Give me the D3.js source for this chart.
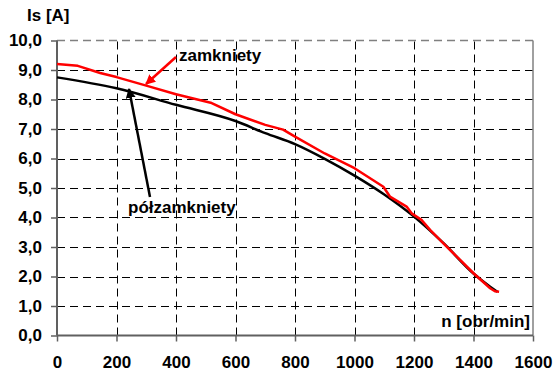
<!DOCTYPE html>
<html>
<head>
<meta charset="utf-8">
<script src="https://cdn.jsdelivr.net/npm/d3@7"></script>
<style>
  body { margin: 0; background: #fff; }
  svg { display: block; font-family: "Liberation Sans", Arial, sans-serif; font-weight: bold; }
</style>
</head>
<body>
<div id="chart"></div>
<script>
// chart values
const xTicks = [0, 200, 400, 600, 800, 1000, 1200, 1400, 1600];
const yTicks = [0, 1, 2, 3, 4, 5, 6, 7, 8, 9, 10];

// "zamkniety" (red)
const zamN  = [0, 70, 145, 200, 300, 400, 520, 600, 700, 760, 800, 900, 1000, 1097, 1119, 1175, 1192, 1225, 1254, 1299, 1344, 1400, 1456, 1472, 1486];
const zamIs = [9.2, 9.14, 8.9, 8.76, 8.47, 8.18, 7.88, 7.5, 7.14, 6.98, 6.74, 6.17, 5.67, 5.04, 4.71, 4.37, 4.14, 3.92, 3.58, 3.12, 2.67, 2.11, 1.6, 1.5, 1.48];

// "półzamkniety" (black)
const polN  = [0, 200, 400, 600, 700, 800, 900, 1000, 1100, 1200, 1300, 1400, 1456, 1480];
const polIs = [8.75, 8.38, 7.82, 7.27, 6.86, 6.49, 5.99, 5.42, 4.78, 4.03, 3.12, 2.1, 1.65, 1.48];

(() => {
  const width = 555, height = 371;
  const margin = {left: 57, right: 22, top: 40.5, bottom: 35.5};

  const svg = d3.select("#chart").append("svg")
    .attr("width", width)
    .attr("height", height);

  const x = d3.scaleLinear().domain([0, 1600]).range([margin.left, width - margin.right]);
  const y = d3.scaleLinear().domain([0, 10]).range([height - margin.bottom, margin.top]);

  const fmt = d => d3.format(".1f")(d).replace(".", ",");

  // grid
  svg.append("g").selectAll("line")
    .data(yTicks.filter(d => d > 0 && d < 10))
    .join("line")
    .attr("x1", x(0)).attr("x2", x(1600))
    .attr("y1", d => Math.round(y(d)) + 0.5).attr("y2", d => Math.round(y(d)) + 0.5)
    .attr("stroke", "#000").attr("stroke-width", 1).attr("stroke-dasharray", "8,5");

  svg.append("g").selectAll("line")
    .data(xTicks.filter(d => d > 0 && d < 1600))
    .join("line")
    .attr("x1", d => Math.round(x(d)) + 0.5).attr("x2", d => Math.round(x(d)) + 0.5)
    .attr("y1", y(0)).attr("y2", y(10))
    .attr("stroke", "#000").attr("stroke-width", 1).attr("stroke-dasharray", "8,5");

  // frame: top dashed gray, right solid gray
  svg.append("line")
    .attr("x1", x(0)).attr("x2", x(1600)).attr("y1", y(10)).attr("y2", y(10))
    .attr("stroke", "#808080").attr("stroke-width", 1.5).attr("stroke-dasharray", "8,5");
  svg.append("line")
    .attr("x1", x(1600)).attr("x2", x(1600)).attr("y1", y(10)).attr("y2", y(0))
    .attr("stroke", "#808080").attr("stroke-width", 1.5);

  // axes
  const yAxis = svg.append("g")
    .attr("transform", `translate(${x(0)},0)`)
    .call(d3.axisLeft(y).tickValues(yTicks).tickFormat(fmt).tickSize(6).tickPadding(9));
  const xAxis = svg.append("g")
    .attr("transform", `translate(0,${y(0)})`)
    .call(d3.axisBottom(x).tickValues(xTicks).tickFormat(d3.format("d")).tickSize(6).tickPadding(14));

  [yAxis, xAxis].forEach(g => {
    g.select(".domain").attr("stroke", "#606060").attr("stroke-width", 2);
    g.selectAll(".tick line").attr("stroke", "#606060").attr("stroke-width", 1.5);
    g.selectAll("text").attr("fill", "#000")
      .style("font-size", "17px").style("font-weight", "bold")
      .style("font-family", "'Liberation Sans', Arial, sans-serif");
  });
  yAxis.select(".domain").attr("d", `M0,${y(0)}V${y(10)}`);
  xAxis.select(".domain").attr("d", `M${x(0)},0H${x(1600)}`);

  // curves
  const smooth = d3.line().x(d => x(d[0])).y(d => y(d[1])).curve(d3.curveMonotoneX);
  const rough = d3.line().x(d => x(d[0])).y(d => y(d[1]));

  svg.append("path")
    .datum(polN.map((n, i) => [n, polIs[i]]))
    .attr("d", smooth)
    .attr("fill", "none").attr("stroke", "#000").attr("stroke-width", 2.5);

  svg.append("path")
    .datum(zamN.map((n, i) => [n, zamIs[i]]))
    .attr("d", rough)
    .attr("fill", "none").attr("stroke", "#ff0000").attr("stroke-width", 2.5)
    .attr("stroke-linejoin", "round");

  // arrows
  const defs = svg.append("defs");
  [["ared", "#ff0000"], ["ablk", "#000"]].forEach(([id, c]) => {
    defs.append("marker")
      .attr("id", id).attr("viewBox", "0 0 10 10")
      .attr("refX", 9).attr("refY", 5)
      .attr("markerWidth", 4).attr("markerHeight", 4)
      .attr("markerUnits", "strokeWidth")
      .attr("orient", "auto")
      .append("path").attr("d", "M0,0L10,5L0,10Z").attr("fill", c);
  });

  svg.append("line")
    .attr("x1", 176).attr("y1", 57).attr("x2", 146).attr("y2", 84)
    .attr("stroke", "#ff0000").attr("stroke-width", 2.5)
    .attr("marker-end", "url(#ared)");

  svg.append("line")
    .attr("x1", 150).attr("y1", 197).attr("x2", 129).attr("y2", 89)
    .attr("stroke", "#000").attr("stroke-width", 2.5)
    .attr("marker-end", "url(#ablk)");

  // labels
  const label = (t, xx, yy, anchor) => svg.append("text")
    .attr("x", xx).attr("y", yy)
    .attr("text-anchor", anchor || "start")
    .style("font-size", "17px")
    .text(t);

  label("Is [A]", 27, 21);
  label("n [obr/min]", 530, 327, "end");
  label("zamkniety", 179, 61);
  label("półzamkniety", 128, 213);
})();
</script>
</body>
</html>
